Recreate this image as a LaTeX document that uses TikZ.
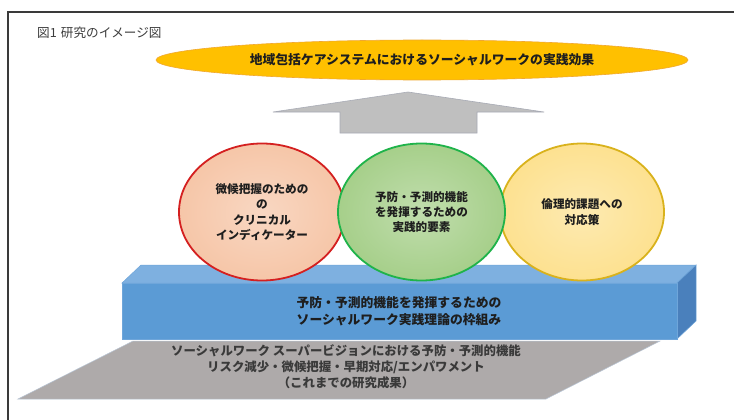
\documentclass[tikz,border=0pt]{standalone}
\usepackage{fontspec}
\setmainfont{Noto Sans CJK JP}
\usetikzlibrary{shapes.geometric}
\definecolor{framecol}{HTML}{3A3A3A}
\definecolor{titlecol}{HTML}{3C3C3C}
\definecolor{goalfill}{HTML}{FFC000}
\definecolor{goaledge}{HTML}{F0A830}
\definecolor{arrowfill}{HTML}{BFBFBF}
\definecolor{arrowedge}{HTML}{A8ABB5}
\definecolor{redfill}{HTML}{F6C6A8}
\definecolor{rededge}{HTML}{D42020}
\definecolor{greenfill}{HTML}{A6CF8A}
\definecolor{greenedge}{HTML}{1FB34A}
\definecolor{yelfill}{HTML}{FDE190}
\definecolor{yeledge}{HTML}{D9B21C}
\definecolor{boxfront}{HTML}{5B9BD5}
\definecolor{boxtop}{HTML}{7EB0E0}
\definecolor{boxside}{HTML}{4A80BC}
\definecolor{boxedge}{HTML}{6FA6DA}
\definecolor{groundfill}{HTML}{AEAAAA}
\definecolor{groundedge}{HTML}{B8C4D4}
\definecolor{txtdark}{HTML}{1E1E1E}
\definecolor{txtgray}{HTML}{3A3A3A}
\begin{document}
\begin{tikzpicture}[x=1pt,y=-1pt,
  bubble/.style={ellipse, minimum width=166pt, minimum height=137pt, inner sep=0pt,
    line width=1.8pt, align=center, text=txtdark,
    font=\fontsize{11.6}{15.3}\selectfont\bfseries},
  boxtext/.style={align=center, text=txtdark, inner sep=0pt,
    font=\fontsize{12.8}{17.5}\selectfont\bfseries},
  groundtext/.style={align=center, text=txtgray, inner sep=0pt,
    font=\fontsize{12.4}{16.2}\selectfont\bfseries}
]
\useasboundingbox (0,0) rectangle (734,420);
\fill[white] (0,0) rectangle (734,420);
% frame
\draw[framecol, line width=1.2pt] (734,12) -- (8,12) -- (8,420);
% title
\node[anchor=west, text=titlecol, inner sep=0pt, font=\fontsize{12.6}{14}\selectfont] (title) at (37,33) {図1\,\,研究のイメージ図};
% goal ellipse
\node[ellipse, minimum width=532pt, minimum height=40pt, inner sep=0pt,
  fill=goalfill, draw=goaledge, line width=0.6pt, text=txtdark,
  font=\fontsize{12.8}{14}\selectfont\bfseries] (goal) at (422,60)
  {地域包括ケアシステムにおけるソーシャルワークの実践効果};
% block arrow
\filldraw[fill=arrowfill, draw=arrowedge, line width=0.6pt]
  (408,92) -- (544,112) -- (477,112) -- (477,133) -- (340,133) -- (340,112) -- (273,112) -- cycle;
% ground parallelogram
\filldraw[fill=groundfill, draw=groundedge, line width=0.5pt]
  (18,399) -- (133,341) -- (660,341) -- (546,399) -- cycle;
\node[groundtext] (ground) at (346,367)
  {ソーシャルワーク スーパービジョンにおける予防・予測的機能\\
   リスク減少・微候把握・早期対応/エンパワメント\\
   （これまでの研究成果）};
% blue box
\filldraw[fill=boxtop, draw=boxedge, line width=0.5pt]
  (122,283) -- (141,265) -- (696,265) -- (677,283) -- cycle;
\filldraw[fill=boxside, draw=boxedge, line width=0.5pt]
  (677,283) -- (696,265) -- (696,321) -- (677,339) -- cycle;
\filldraw[fill=boxfront, draw=boxedge, line width=0.5pt]
  (122,283) rectangle (677,339);
\node[boxtext] (frame) at (399,311)
  {予防・予測的機能を発揮するための\\ソーシャルワーク実践理論の枠組み};
% bubbles
\node[bubble, draw=rededge, inner color=redfill!70!white, outer color=redfill] (clin) at (262,212)
  {微候把握のための\\の\\クリニカル\\インディケーター};
\node[bubble, minimum width=164pt, draw=yeledge, inner color=yelfill!70!white, outer color=yelfill] (ethic) at (582,212)
  {倫理的課題への\\対応策};
\node[bubble, minimum width=167pt, draw=greenedge, inner color=greenfill!70!white, outer color=greenfill] (prac) at (421.5,212)
  {予防・予測的機能\\を発揮するための\\実践的要素};
\end{tikzpicture}
\end{document}
